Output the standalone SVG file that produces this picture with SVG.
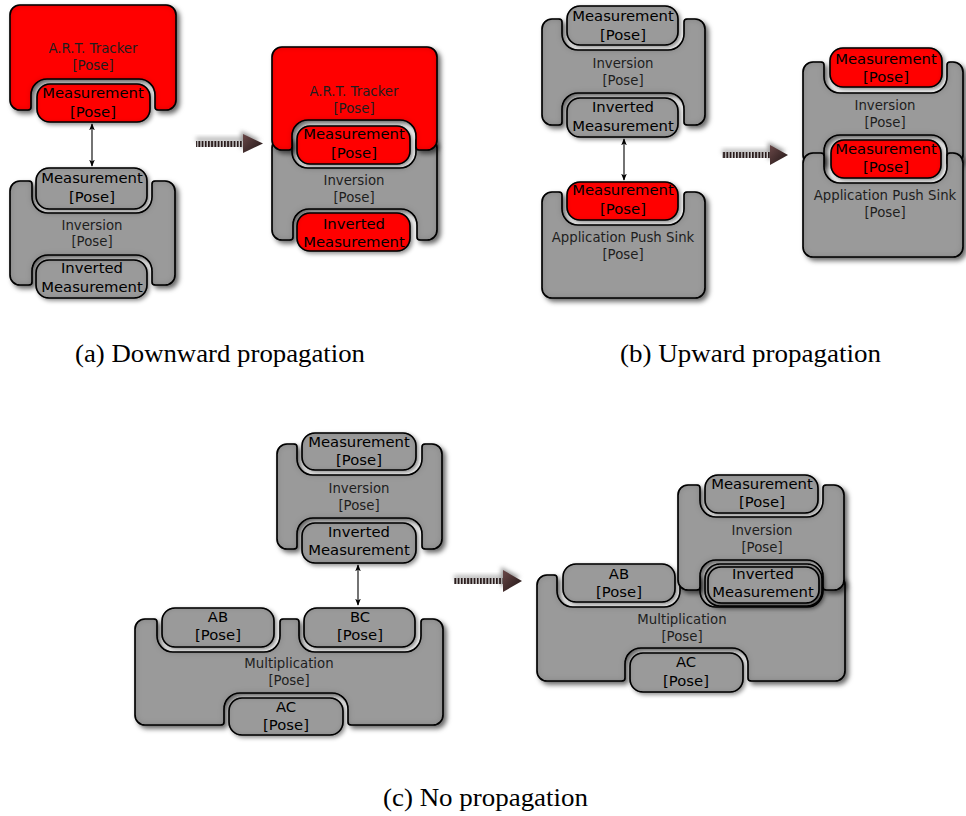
<svg xmlns="http://www.w3.org/2000/svg" width="966" height="816" viewBox="0 0 966 816">
  <defs>
    <style>
      .body { stroke: #000; stroke-width: 1.6; filter: url(#bodyShade); }
      .pill { stroke: #000; stroke-width: 1.6; filter: url(#pillShade); }
      .red { fill: #ff0000; }
      .grey { fill: #9a9a9a; }
      .lbl { font-family: "DejaVu Sans", "Liberation Sans", sans-serif; font-size: 13.3px; fill: #1e1e1e; text-anchor: middle; }
      .port { font-family: "DejaVu Sans", "Liberation Sans", sans-serif; font-size: 14.8px; fill: #000; text-anchor: middle; }
      .cap { font-family: "Liberation Serif", "DejaVu Serif", serif; font-size: 25px; fill: #000; }
      .link { stroke: #000; stroke-width: 1.1; fill: none; marker-start: url(#tip); marker-end: url(#tip); }
      .shaft { fill: url(#stripes); }
      .head { fill: url(#headFill); }
    </style>
    <filter id="bodyShade" x="-10%" y="-10%" width="125%" height="130%">
      <feGaussianBlur in="SourceAlpha" stdDeviation="2.5" result="blur"/>
      <feOffset in="blur" dx="3" dy="3" result="off"/>
      <feFlood flood-color="#000" flood-opacity="0.6"/>
      <feComposite in2="off" operator="in" result="drop"/>
      <feGaussianBlur in="SourceAlpha" stdDeviation="3" result="b2"/>
      <feComposite in="SourceAlpha" in2="b2" operator="out" result="edge"/>
      <feFlood flood-color="#000" flood-opacity="0.5"/>
      <feComposite in2="edge" operator="in" result="inner"/>
      <feMerge>
        <feMergeNode in="drop"/>
        <feMergeNode in="SourceGraphic"/>
        <feMergeNode in="inner"/>
      </feMerge>
    </filter>
    <filter id="pillShade" x="-15%" y="-30%" width="135%" height="170%">
      <feGaussianBlur in="SourceAlpha" stdDeviation="2" result="blur"/>
      <feOffset in="blur" dx="1.5" dy="2" result="off"/>
      <feFlood flood-color="#000" flood-opacity="0.45"/>
      <feComposite in2="off" operator="in" result="drop"/>
      <feGaussianBlur in="SourceAlpha" stdDeviation="2.5" result="b2"/>
      <feComposite in="SourceAlpha" in2="b2" operator="out" result="edge"/>
      <feFlood flood-color="#000" flood-opacity="0.45"/>
      <feComposite in2="edge" operator="in" result="inner"/>
      <feMerge>
        <feMergeNode in="drop"/>
        <feMergeNode in="SourceGraphic"/>
        <feMergeNode in="inner"/>
      </feMerge>
    </filter>
    <filter id="haze" x="-30%" y="-60%" width="160%" height="220%">
      <feGaussianBlur stdDeviation="2"/>
    </filter>
    <pattern id="stripes" x="0" y="0" width="3.2" height="10" patternUnits="userSpaceOnUse">
      <rect width="3.2" height="10" fill="#d8d8d8"/>
      <rect width="1.9" height="10" fill="#2a1c1c"/>
    </pattern>
    <linearGradient id="headFill" x1="0" y1="0" x2="1" y2="1">
      <stop offset="0" stop-color="#6a4848"/>
      <stop offset="1" stop-color="#1e1414"/>
    </linearGradient>
    <marker id="tip" viewBox="0 0 10 8" refX="9" refY="4" markerWidth="7" markerHeight="6" markerUnits="userSpaceOnUse" orient="auto-start-reverse">
      <path d="M0,0 L10,4 L0,8 L2.5,4 Z" fill="#000"/>
    </marker>
  </defs>

  <rect width="966" height="816" fill="#fff"/>

  <!-- (a) left: tracker above inversion -->
  <g id="a1-tracker">
    <path class="body red" d="M10,15 A10,10 0 0 1 20,5 H166 A10,10 0 0 1 176,15 V100 A10,10 0 0 1 166,110 H158 A3,3 0 0 1 155,107 V95 A16,16 0 0 0 139,79 H47 A16,16 0 0 0 31,95 V107 A3,3 0 0 1 28,110 H20 A10,10 0 0 1 10,100 Z"/>
    <rect class="pill red" x="37" y="84" width="113" height="38" rx="13"/>
    <text class="lbl" x="93" y="52.5">A.R.T. Tracker</text>
    <text class="lbl" x="93" y="70">[Pose]</text>
    <text class="port" x="93" y="98">Measurement</text>
    <text class="port" x="93" y="117">[Pose]</text>
  </g>
  <g id="a1-inversion">
    <path class="body grey" d="M10,191 A10,10 0 0 1 20,181 H29 A3,3 0 0 1 32,184 V197 A16,16 0 0 0 48,213 H136 A16,16 0 0 0 152,197 V184 A3,3 0 0 1 155,181 H165 A10,10 0 0 1 175,191 V275 A10,10 0 0 1 165,285 H155 A3,3 0 0 1 152,282 V271 A16,16 0 0 0 136,255 H48 A16,16 0 0 0 32,271 V282 A3,3 0 0 1 29,285 H20 A10,10 0 0 1 10,275 Z"/>
    <rect class="pill grey" x="36" y="168" width="111" height="41" rx="13"/>
    <rect class="pill grey" x="36" y="260" width="111" height="38" rx="13"/>
    <text class="port" x="92" y="183">Measurement</text>
    <text class="port" x="92" y="202">[Pose]</text>
    <text class="lbl" x="92" y="229.5">Inversion</text>
    <text class="lbl" x="92" y="245.5">[Pose]</text>
    <text class="port" x="92" y="273">Inverted</text>
    <text class="port" x="92" y="292">Measurement</text>
  </g>

  <!-- (a) right: merged result -->
  <g id="a2-inversion">
    <path class="body grey" d="M272,148 A10,10 0 0 1 282,138 H289 A3,3 0 0 1 292,141 V152 A16,16 0 0 0 308,168 H400 A16,16 0 0 0 416,152 V141 A3,3 0 0 1 419,138 H427 A10,10 0 0 1 437,148 V230 A10,10 0 0 1 427,240 H420 A3,3 0 0 1 417,237 V225 A16,16 0 0 0 401,209 H309 A16,16 0 0 0 293,225 V237 A3,3 0 0 1 290,240 H282 A10,10 0 0 1 272,230 Z"/>
    <rect class="pill red" x="297" y="213" width="113" height="38" rx="13"/>
    <text class="lbl" x="354" y="184.5">Inversion</text>
    <text class="lbl" x="354" y="201.5">[Pose]</text>
    <text class="port" x="354" y="229">Inverted</text>
    <text class="port" x="354" y="247">Measurement</text>
  </g>
  <g id="a2-tracker">
    <path class="body red" d="M272,57 A10,10 0 0 1 282,47 H427 A10,10 0 0 1 437,57 V140 A10,10 0 0 1 427,150 H419 A3,3 0 0 1 416,147 V136 A16,16 0 0 0 400,120 H308 A16,16 0 0 0 292,136 V147 A3,3 0 0 1 289,150 H282 A10,10 0 0 1 272,140 Z"/>
    <rect class="pill red" x="297" y="126" width="113" height="38" rx="13"/>
    <text class="lbl" x="354" y="95.5">A.R.T. Tracker</text>
    <text class="lbl" x="354" y="112.5">[Pose]</text>
    <text class="port" x="354" y="139">Measurement</text>
    <text class="port" x="354" y="158">[Pose]</text>
  </g>

  <!-- (b) left: inversion above push sink -->
  <g id="b1-inversion">
    <path class="body grey" d="M542,29 A10,10 0 0 1 552,19 H559 A3,3 0 0 1 562,22 V34 A16,16 0 0 0 578,50 H668 A16,16 0 0 0 684,34 V22 A3,3 0 0 1 687,19 H695 A10,10 0 0 1 705,29 V115 A10,10 0 0 1 695,125 H687 A3,3 0 0 1 684,122 V109 A16,16 0 0 0 668,93 H578 A16,16 0 0 0 562,109 V122 A3,3 0 0 1 559,125 H552 A10,10 0 0 1 542,115 Z"/>
    <rect class="pill grey" x="567" y="6" width="111" height="39" rx="13"/>
    <rect class="pill grey" x="567" y="98" width="111" height="39" rx="13"/>
    <text class="port" x="623" y="21">Measurement</text>
    <text class="port" x="623" y="40">[Pose]</text>
    <text class="lbl" x="623" y="67.5">Inversion</text>
    <text class="lbl" x="623" y="84.5">[Pose]</text>
    <text class="port" x="623" y="112">Inverted</text>
    <text class="port" x="623" y="131">Measurement</text>
  </g>
  <g id="b1-sink">
    <path class="body grey" d="M542,202 A10,10 0 0 1 552,192 H559 A3,3 0 0 1 562,195 V209 A16,16 0 0 0 578,225 H668 A16,16 0 0 0 684,209 V195 A3,3 0 0 1 687,192 H695 A10,10 0 0 1 705,202 V288 A10,10 0 0 1 695,298 H552 A10,10 0 0 1 542,288 Z"/>
    <rect class="pill red" x="567" y="182" width="111" height="38" rx="13"/>
    <text class="port" x="623" y="195">Measurement</text>
    <text class="port" x="623" y="214">[Pose]</text>
    <text class="lbl" x="623" y="241.5">Application Push Sink</text>
    <text class="lbl" x="623" y="258.5">[Pose]</text>
  </g>

  <!-- (b) right: merged result -->
  <g id="b2-inversion">
    <path class="body grey" d="M803,72 A10,10 0 0 1 813,62 H821 A3,3 0 0 1 824,65 V77 A16,16 0 0 0 840,93 H931 A16,16 0 0 0 947,77 V65 A3,3 0 0 1 950,62 H953 A10,10 0 0 1 963,72 V155 A10,10 0 0 1 953,165 H950 A3,3 0 0 1 947,162 V151 A16,16 0 0 0 931,135 H840 A16,16 0 0 0 824,151 V162 A3,3 0 0 1 821,165 H813 A10,10 0 0 1 803,155 Z"/>
    <rect class="pill red" x="830" y="48" width="112" height="39" rx="13"/>
    <text class="port" x="886" y="64">Measurement</text>
    <text class="port" x="886" y="82">[Pose]</text>
    <text class="lbl" x="885" y="109.5">Inversion</text>
    <text class="lbl" x="885" y="126.5">[Pose]</text>
  </g>
  <g id="b2-sink">
    <path class="body grey" d="M803,163 A10,10 0 0 1 813,153 H821 A3,3 0 0 1 824,156 V167 A16,16 0 0 0 840,183 H931 A16,16 0 0 0 947,167 V156 A3,3 0 0 1 950,153 H953 A10,10 0 0 1 963,163 V247 A10,10 0 0 1 953,257 H813 A10,10 0 0 1 803,247 Z"/>
    <rect class="pill red" x="831" y="140" width="110" height="38" rx="13"/>
    <text class="port" x="886" y="154">Measurement</text>
    <text class="port" x="886" y="172">[Pose]</text>
    <text class="lbl" x="885" y="199.5">Application Push Sink</text>
    <text class="lbl" x="885" y="216.5">[Pose]</text>
  </g>

  <!-- (c) left: inversion above multiplication -->
  <g id="c1-inversion">
    <path class="body grey" d="M277,454 A10,10 0 0 1 287,444 H294 A3,3 0 0 1 297,447 V459 A16,16 0 0 0 313,475 H406 A16,16 0 0 0 422,459 V447 A3,3 0 0 1 425,444 H432 A10,10 0 0 1 442,454 V539 A10,10 0 0 1 432,549 H425 A3,3 0 0 1 422,546 V534 A16,16 0 0 0 406,518 H313 A16,16 0 0 0 297,534 V546 A3,3 0 0 1 294,549 H287 A10,10 0 0 1 277,539 Z"/>
    <rect class="pill grey" x="302" y="433" width="114" height="37" rx="13"/>
    <rect class="pill grey" x="302" y="523" width="114" height="40" rx="13"/>
    <text class="port" x="359" y="447">Measurement</text>
    <text class="port" x="359" y="465">[Pose]</text>
    <text class="lbl" x="359" y="492.5">Inversion</text>
    <text class="lbl" x="359" y="509.5">[Pose]</text>
    <text class="port" x="359" y="537">Inverted</text>
    <text class="port" x="359" y="555">Measurement</text>
  </g>
  <g id="c1-multiplication">
    <path class="body grey" d="M135,629 A10,10 0 0 1 145,619 H154 A3,3 0 0 1 157,622 V636 A16,16 0 0 0 173,652 H264 A16,16 0 0 0 280,636 V622 A3,3 0 0 1 283,619 H296 A3,3 0 0 1 299,622 V636 A16,16 0 0 0 315,652 H405 A16,16 0 0 0 421,636 V622 A3,3 0 0 1 424,619 H433 A10,10 0 0 1 443,629 V715 A10,10 0 0 1 433,725 H351 A3,3 0 0 1 348,722 V709 A16,16 0 0 0 332,693 H240 A16,16 0 0 0 224,709 V722 A3,3 0 0 1 221,725 H145 A10,10 0 0 1 135,715 Z"/>
    <rect class="pill grey" x="162" y="608" width="112" height="39" rx="13"/>
    <rect class="pill grey" x="304" y="608" width="111" height="39" rx="13"/>
    <rect class="pill grey" x="229" y="698" width="114" height="37" rx="13"/>
    <text class="port" x="218" y="622">AB</text>
    <text class="port" x="218" y="640">[Pose]</text>
    <text class="port" x="360" y="622">BC</text>
    <text class="port" x="360" y="640">[Pose]</text>
    <text class="lbl" x="289" y="667.5">Multiplication</text>
    <text class="lbl" x="289" y="684.5">[Pose]</text>
    <text class="port" x="286" y="712">AC</text>
    <text class="port" x="286" y="730">[Pose]</text>
  </g>

  <!-- (c) right: combined result -->
  <g id="c2-multiplication">
    <path class="body grey" d="M537,585 A10,10 0 0 1 547,575 H554 A3,3 0 0 1 557,578 V591 A16,16 0 0 0 573,607 H664 A16,16 0 0 0 680,591 V578 A3,3 0 0 1 683,575 H697 A3,3 0 0 1 700,578 V591 A16,16 0 0 0 716,607 H807 A16,16 0 0 0 823,591 V578 A3,3 0 0 1 826,575 H835 A10,10 0 0 1 845,585 V671 A10,10 0 0 1 835,681 H751 A3,3 0 0 1 748,678 V664 A16,16 0 0 0 732,648 H641 A16,16 0 0 0 625,664 V678 A3,3 0 0 1 622,681 H547 A10,10 0 0 1 537,671 Z"/>
    <rect class="pill grey" x="563" y="564" width="112" height="38" rx="13"/>
    <rect class="pill grey" x="630" y="653" width="113" height="39" rx="13"/>
    <text class="port" x="619" y="579">AB</text>
    <text class="port" x="619" y="597">[Pose]</text>
    <text class="lbl" x="682" y="623.5">Multiplication</text>
    <text class="lbl" x="682" y="640.5">[Pose]</text>
    <text class="port" x="686" y="667">AC</text>
    <text class="port" x="686" y="686">[Pose]</text>
  </g>
  <g id="c2-inversion">
    <path class="body grey" d="M678,495 A10,10 0 0 1 688,485 H697 A3,3 0 0 1 700,488 V501 A16,16 0 0 0 716,517 H807 A16,16 0 0 0 823,501 V488 A3,3 0 0 1 826,485 H834 A10,10 0 0 1 844,495 V580 A10,10 0 0 1 834,590 H826 A3,3 0 0 1 823,587 V576 A16,16 0 0 0 807,560 H716 A16,16 0 0 0 700,576 V587 A3,3 0 0 1 697,590 H688 A10,10 0 0 1 678,580 Z"/>
    <rect class="pill grey" x="705" y="475" width="113" height="38" rx="13"/>
    <rect class="pill grey" x="705" y="564" width="117" height="42" rx="15"/>
    <rect class="pill grey" x="708" y="567" width="111" height="36" rx="13"/>
    <text class="port" x="762" y="489">Measurement</text>
    <text class="port" x="762" y="507">[Pose]</text>
    <text class="lbl" x="762" y="534.5">Inversion</text>
    <text class="lbl" x="762" y="551.5">[Pose]</text>
    <text class="port" x="763" y="579">Inverted</text>
    <text class="port" x="763" y="597">Measurement</text>
  </g>

  <!-- port links -->
  <g id="connectors">
    <line class="link" x1="92" y1="124" x2="92" y2="166"/>
    <line class="link" x1="624" y1="139" x2="624" y2="180"/>
    <line class="link" x1="358" y1="565" x2="358" y2="605"/>
  </g>

  <!-- transition arrows between before/after -->
  <g id="transitions">
    <g>
      <rect x="196" y="137" width="50" height="5" fill="#bbb" filter="url(#haze)"/>
      <path d="M241,131 L260,140 L241,149 Z" fill="#999" filter="url(#haze)"/>
      <rect class="shaft" x="196" y="141" width="48" height="6"/>
      <path class="head" d="M243,134 L263,143.5 L243,153 Z"/>
    </g>
    <g>
      <rect x="722" y="149" width="50" height="5" fill="#bbb" filter="url(#haze)"/>
      <path d="M768,142 L786,151 L768,160 Z" fill="#999" filter="url(#haze)"/>
      <rect class="shaft" x="722" y="152" width="48" height="6"/>
      <path class="head" d="M770,145 L788,155 L770,165 Z"/>
    </g>
    <g>
      <rect x="454" y="575" width="50" height="5" fill="#bbb" filter="url(#haze)"/>
      <path d="M501,567 L520,577 L501,587 Z" fill="#999" filter="url(#haze)"/>
      <rect class="shaft" x="454" y="578" width="49" height="6"/>
      <path class="head" d="M503,570 L522,581 L503,592 Z"/>
    </g>
  </g>

  <!-- sub-figure captions -->
  <g id="captions">
    <text class="cap" x="75" y="362" textLength="290" lengthAdjust="spacingAndGlyphs">(a) Downward propagation</text>
    <text class="cap" x="620" y="362" textLength="261" lengthAdjust="spacingAndGlyphs">(b) Upward propagation</text>
    <text class="cap" x="383" y="806" textLength="205" lengthAdjust="spacingAndGlyphs">(c) No propagation</text>
  </g>
</svg>
